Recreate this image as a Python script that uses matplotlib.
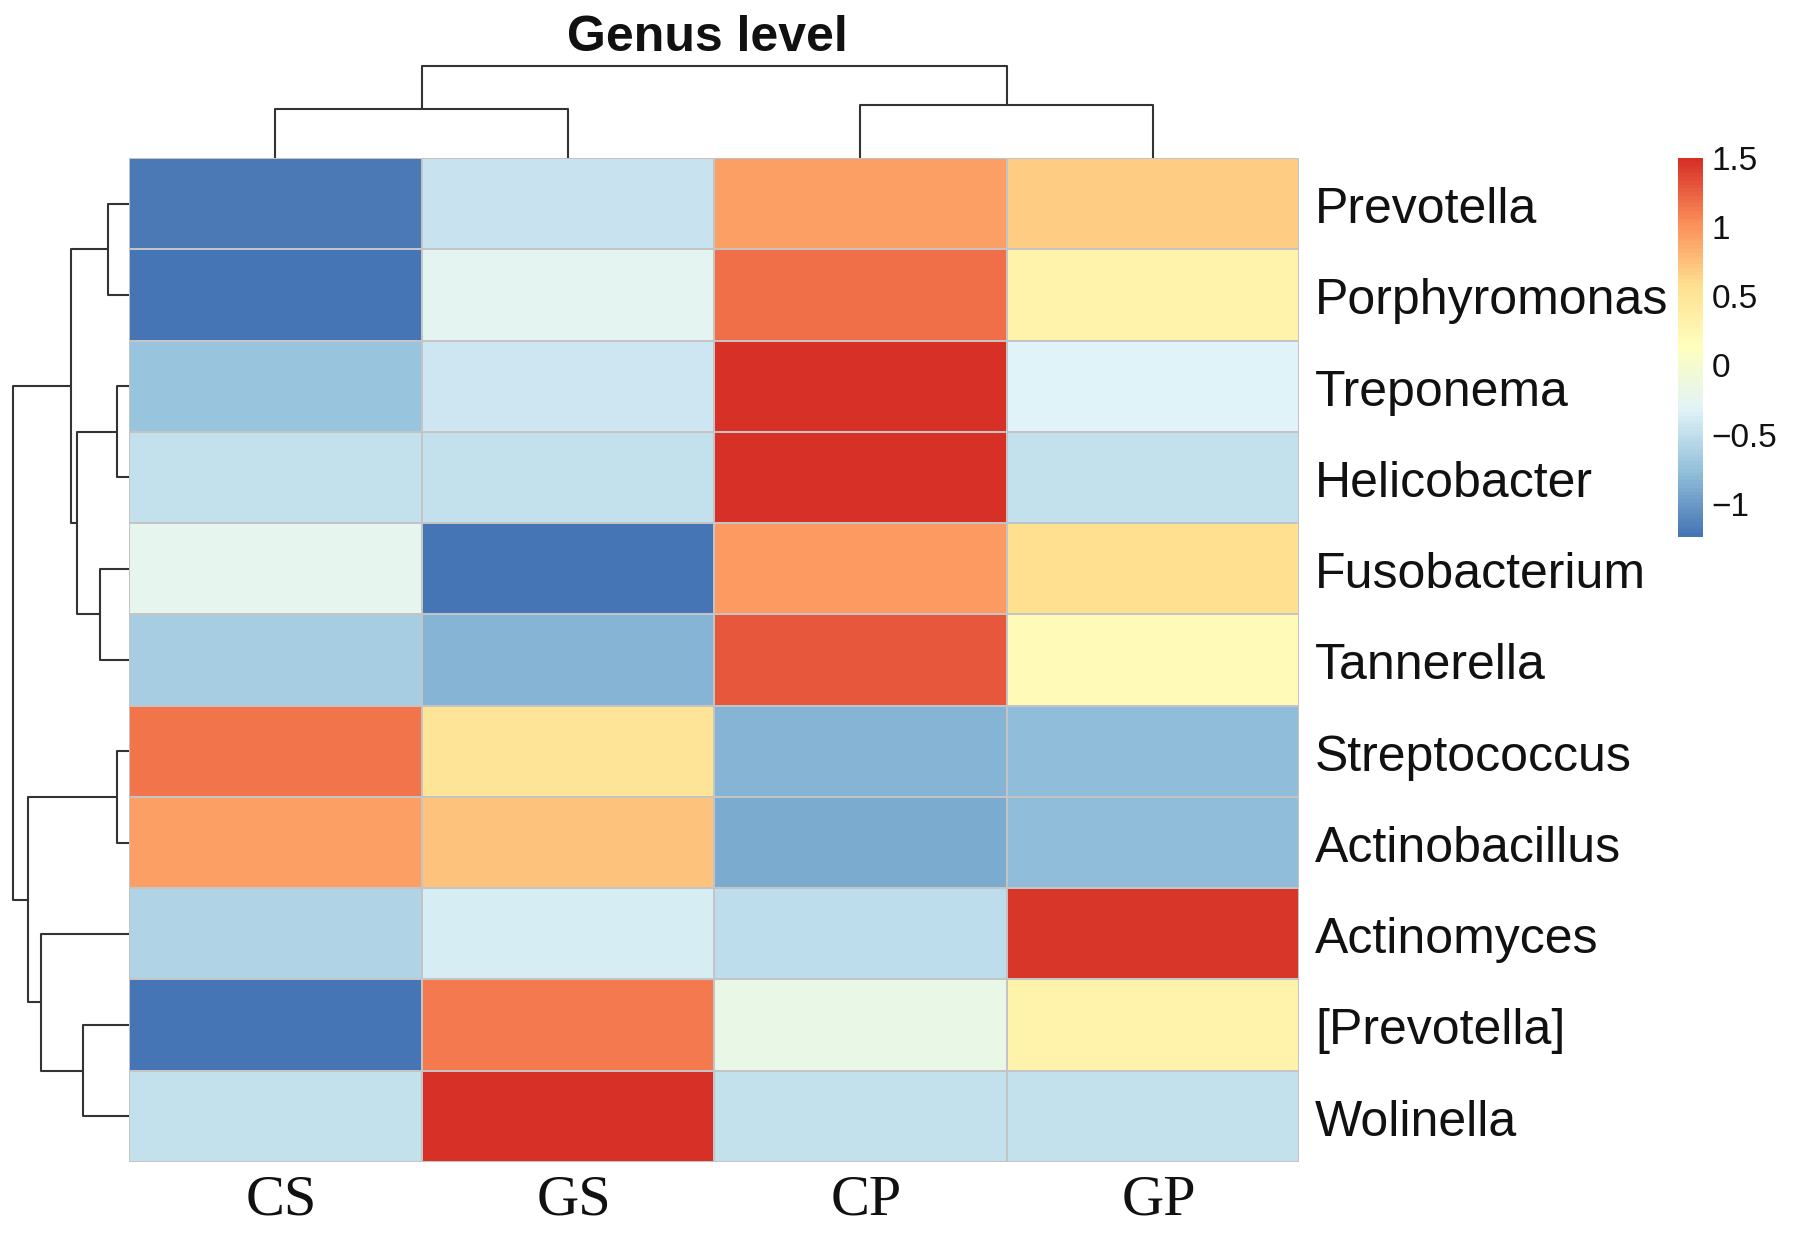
import numpy as np
import matplotlib
matplotlib.use("Agg")
import matplotlib.pyplot as plt
from matplotlib.colors import LinearSegmentedColormap

# ---------------- data ----------------
row_labels = ["Prevotella", "Porphyromonas", "Treponema", "Helicobacter",
              "Fusobacterium", "Tannerella", "Streptococcus", "Actinobacillus",
              "Actinomyces", "[Prevotella]", "Wolinella"]
col_labels = ["CS", "GS", "CP", "GP"]

prevotella     = [-1.19, -0.45,  0.95,  0.69]
porphyromonas  = [-1.22, -0.26,  1.18,  0.30]
treponema      = [-0.72, -0.44,  1.48, -0.32]
helicobacter   = [-0.50, -0.50,  1.50, -0.50]
fusobacterium  = [-0.25, -1.24,  0.97,  0.57]
tannerella     = [-0.66, -0.85,  1.30,  0.21]
streptococcus  = [ 1.16,  0.52, -0.84, -0.80]
actinobacillus = [ 0.95,  0.74, -0.91, -0.78]
actinomyces    = [-0.59, -0.37, -0.51,  1.47]
prevotella_b   = [-1.23,  1.12, -0.19,  0.30]
wolinella      = [-0.50,  1.50, -0.50, -0.50]

# dendrograms: (left, right, height); ints are leaf indices
row_tree = (((0, 1, 21), ((2, 3, 12), (4, 5, 29), 52), 58),
            ((6, 7, 12), (8, (9, 10, 46), 88), 101), 116)
col_tree = ((0, 1, 49), (2, 3, 53), 92)

cbar_ticks = [-1, -0.5, 0, 0.5, 1, 1.5]
cbar_ticklabels = ["\u22121", "\u22120.5", "0", "0.5", "1", "1.5"]
title = "Genus level"

palette = ["#4575B4", "#91BFDB", "#E0F3F8", "#FFFFBF", "#FEE090", "#FC8D59", "#D73027"]

# ---------------- figure ----------------
W, H = 1795, 1233
fig = plt.figure(figsize=(W / 100, H / 100), dpi=100)
fig.patch.set_facecolor("white")


def px_axes(x0, y0, x1, y1):
    return fig.add_axes([x0 / W, 1 - y1 / H, (x1 - x0) / W, (y1 - y0) / H])


data = np.array([prevotella, porphyromonas, treponema, helicobacter, fusobacterium,
                 tannerella, streptococcus, actinobacillus, actinomyces,
                 prevotella_b, wolinella])
vmin, vmax = data.min(), data.max()
cmap = LinearSegmentedColormap.from_list("rdylbu_rev", palette, N=100)

HX0, HY0, HX1, HY1 = 129, 158, 1299, 1162
ax = px_axes(HX0, HY0, HX1, HY1)
ax.pcolormesh(np.arange(len(col_labels) + 1), np.arange(len(row_labels) + 1), data,
              cmap=cmap, vmin=vmin, vmax=vmax, edgecolors="#c4c4c4", linewidth=1.3)
ax.set_xlim(0, len(col_labels))
ax.set_ylim(len(row_labels), 0)
ax.axis("off")

lab_font = ["Liberation Sans", "DejaVu Sans"]
for i, lab in enumerate(row_labels):
    ax.text(len(col_labels) + 0.055, i + 0.57, lab, ha="left", va="center",
            fontsize=36, family=lab_font, color="#111111", clip_on=False)
for j, lab in enumerate(col_labels):
    ax.text(j + 0.52, len(row_labels) + 0.42, lab, ha="center", va="center",
            fontsize=42, family=["Liberation Serif", "DejaVu Serif"], color="#111111",
            clip_on=False)


def draw_tree(axd, node, orient, lc="#333333"):
    """Return (position, height) of node; draw links."""
    if isinstance(node, int):
        return node + 0.5, 0.0
    l, r, h = node
    pl, hl = draw_tree(axd, l, orient)
    pr, hr = draw_tree(axd, r, orient)
    if orient == "row":
        axd.plot([hl, h, h, hr], [pl, pl, pr, pr], color=lc, lw=1.5,
                 solid_capstyle="butt", clip_on=False)
    else:
        axd.plot([pl, pl, pr, pr], [hl, h, h, hr], color=lc, lw=1.5,
                 solid_capstyle="butt", clip_on=False)
    return (pl + pr) / 2, h


# row dendrogram
axr = px_axes(0, HY0, HX0, HY1)
draw_tree(axr, row_tree, "row")
axr.set_xlim(HX0, 0)
axr.set_ylim(len(row_labels), 0)
axr.axis("off")

# column dendrogram
axc = px_axes(HX0, 60, HX1, HY0)
draw_tree(axc, col_tree, "col")
axc.set_xlim(0, len(col_labels))
axc.set_ylim(0, HY0 - 60)
axc.axis("off")

# title
fig.text(707 / W, 1 - 38 / H, title, ha="center", va="center", fontsize=36,
         fontweight="bold", family=lab_font, color="#111111")

# colour bar
axb = px_axes(1678, 158, 1703, 537)
grad = np.linspace(vmin, vmax, 100).reshape(-1, 1)
axb.imshow(grad, aspect="auto", cmap=cmap, vmin=vmin, vmax=vmax, origin="lower",
           extent=[0, 1, vmin, vmax])
axb.set_xticks([])
axb.set_yticks(cbar_ticks)
axb.set_yticklabels(cbar_ticklabels, fontsize=24, family=lab_font, color="#111111")
axb.yaxis.tick_right()
axb.tick_params(axis="y", length=0, pad=6)
for s in axb.spines.values():
    s.set_visible(False)

fig.savefig("out.png", dpi=100, facecolor="white")
